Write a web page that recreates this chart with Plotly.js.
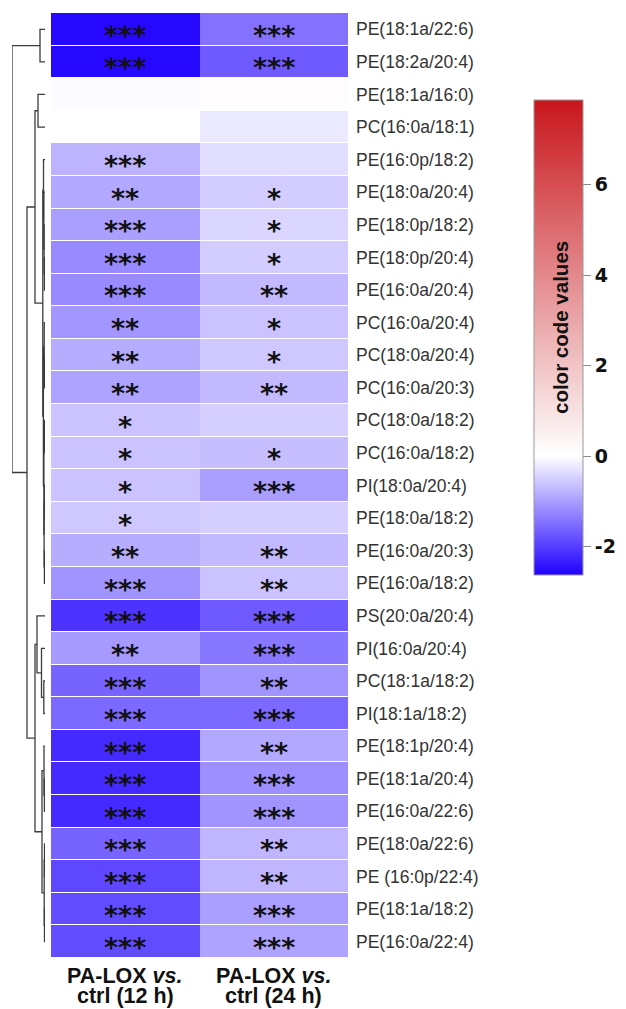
<!DOCTYPE html>
<html>
<head>
<meta charset="utf-8">
<script src="https://cdn.plot.ly/plotly-3.0.1.min.js"></script>
<style>html,body{margin:0;padding:0;background:#fff;}#chart{width:626px;height:1009px;}</style>
</head>
<body>
<div id="chart"></div>
<script>
// ---------------- data ----------------
const rowLabels = [
  "PE(18:1a/22:6)","PE(18:2a/20:4)","PE(18:1a/16:0)","PC(16:0a/18:1)","PE(16:0p/18:2)",
  "PE(18:0a/20:4)","PE(18:0p/18:2)","PE(18:0p/20:4)","PE(16:0a/20:4)","PC(16:0a/20:4)",
  "PC(18:0a/20:4)","PC(16:0a/20:3)","PC(18:0a/18:2)","PC(16:0a/18:2)","PI(18:0a/20:4)",
  "PE(18:0a/18:2)","PE(16:0a/20:3)","PE(16:0a/18:2)","PS(20:0a/20:4)","PI(16:0a/20:4)",
  "PC(18:1a/18:2)","PI(18:1a/18:2)","PE(18:1p/20:4)","PE(18:1a/20:4)","PE(16:0a/22:6)",
  "PE(18:0a/22:6)","PE (16:0p/22:4)","PE(18:1a/18:2)","PE(16:0a/22:4)"
];
const colLabels = ["PA-LOX <i>vs.</i><br>ctrl (12 h)", "PA-LOX <i>vs.</i><br>ctrl (24 h)"];

const val12h = [-2.55,-2.55,-0.04,0.0,-0.78,-0.9,-1.0,-1.2,-1.2,-1.08,
                -0.85,-0.95,-0.62,-0.62,-0.62,-0.57,-0.85,-1.1,-2.1,-1.05,
                -1.6,-1.55,-2.2,-2.2,-2.2,-1.6,-1.9,-1.85,-1.85];
const val24h = [-1.45,-1.7,0.1,-0.23,-0.34,-0.52,-0.42,-0.52,-0.72,-0.62,
                -0.57,-0.72,-0.5,-0.67,-1.0,-0.5,-0.72,-0.62,-1.7,-1.4,
                -1.1,-1.55,-0.9,-1.15,-1.1,-0.75,-0.75,-1.0,-0.95];

const sig12h = ["***","***","","","***","**","***","***","***","**",
                "**","**","*","*","*","*","**","***","***","**",
                "***","***","***","***","***","***","***","***","***"];
const sig24h = ["***","***","","","","*","*","*","**","*",
                "*","**","","*","***","","**","**","***","***",
                "**","***","**","***","***","**","**","***","***"];

// dendrogram linkage (index < 29 = row, index >= 29 = earlier merge)
const linkLeft   = [0,2,7,6,5,4,10,9,12,14,16,38,37,36,34,30,20,19,18,23,22,25,27,50,49,47,44,29];
const linkRight  = [1,3,8,31,32,33,11,35,13,15,17,39,40,41,42,43,21,45,46,24,48,26,28,51,52,53,54,55];
const linkHeight = [5,7,0.6,0.9,1.2,1.5,0.5,0.8,0.5,0.4,0.6,0.9,1.1,1.6,2.2,10,1.2,3.5,8,0.6,1.0,0.5,0.5,0.8,3,10,18,33];

const cbTicks = [-2,0,2,4,6];
const zMin = -2.63, zMax = 7.87;

// ---------------- build ----------------
const W = 626, H = 1009;
const nRows = rowLabels.length;
const z = rowLabels.map((_, i) => [val12h[i], val24h[i]]);
const rowIdx = rowLabels.map((_, i) => i);

const posY = [], posH = [];
for (let i = 0; i < nRows; i++) { posY[i] = i; posH[i] = 0; }
const dx = [], dy = [];
linkLeft.forEach((l, k) => {
  const r = linkRight[k], h = linkHeight[k];
  dx.push(posH[l], h, h, posH[r], null);
  dy.push(posY[l], posY[l], posY[r], posY[r], null);
  posY[nRows + k] = (posY[l] + posY[r]) / 2;
  posH[nRows + k] = h;
});

const zeroFrac = (0 - zMin) / (zMax - zMin);
const heat = {
  type: 'heatmap', x: [0, 1], y: rowIdx, z: z,
  zmin: zMin, zmax: zMax,
  colorscale: [[0, '#2000ff'], [zeroFrac, '#ffffff'], [1, '#c8161c']],
  ygap: 1, hoverinfo: 'skip',
  colorbar: {
    x: 534 / W, xanchor: 'left', xpad: 0, ypad: 0,
    y: (H - 337.5) / H, yanchor: 'middle',
    len: 475, lenmode: 'pixels', thickness: 49, thicknessmode: 'pixels',
    outlinecolor: '#9a9a9a', outlinewidth: 1,
    ticks: 'outside', ticklen: 8, tickcolor: '#888', tickwidth: 1,
    tickvals: cbTicks, ticktext: cbTicks.map(String),
    tickfont: {family: 'DejaVu Sans', size: 19, weight: 'bold', color: '#111'}
  }
};
const dendro = {
  type: 'scatter', mode: 'lines', x: dx, y: dy, xaxis: 'x2', yaxis: 'y',
  line: {color: '#3c3c3c', width: 1.3}, hoverinfo: 'skip', showlegend: false
};

const annotations = [];
[sig12h, sig24h].forEach((arr, c) => {
  arr.forEach((s, r) => {
    if (!s) return;
    annotations.push({x: c, y: r, xref: 'x', yref: 'y', text: s, showarrow: false,
      yshift: -6, font: {family: 'DejaVu Sans', size: 27, weight: 'bold', color: '#111'}});
  });
});
colLabels.forEach((lab, c) => {
  lab.split('<br>').forEach((line, j) => {
    annotations.push({x: c, xref: 'x', y: (H - (976 + 20 * j)) / H, yref: 'paper',
      yanchor: 'middle', xanchor: 'center', text: line, showarrow: false,
      font: {family: 'Liberation Sans, Arial', size: 21.5, weight: 'bold', color: '#111'}});
  });
});
annotations.push({x: 560 / W, y: (H - 328) / H, xref: 'paper', yref: 'paper',
  xanchor: 'center', yanchor: 'middle',
  text: 'color code values', textangle: -90, showarrow: false,
  font: {family: 'Liberation Sans, Arial', size: 20.5, weight: 'bold', color: '#111'}});

const layout = {
  width: W, height: H,
  margin: {l: 0, r: 0, t: 0, b: 0, autoexpand: false},
  paper_bgcolor: '#fff', plot_bgcolor: '#fff',
  showlegend: false,
  xaxis: {domain: [51 / W, 348 / W], range: [-0.5, 1.5], showticklabels: false,
          showgrid: false, zeroline: false, ticks: '', anchor: 'y'},
  yaxis: {domain: [1 - 958 / H, 1 - 13 / H], range: [nRows - 0.5, -0.5], side: 'right',
          tickvals: rowIdx, ticktext: rowLabels, ticks: '', ticklabelstandoff: 7,
          showgrid: false, zeroline: false, anchor: 'x',
          tickfont: {family: 'Liberation Sans, Arial', size: 17.5, color: '#333'}},
  xaxis2: {domain: [12 / W, 45 / W], range: [33, 0], anchor: 'y', visible: false,
           showgrid: false, zeroline: false},
  annotations: annotations
};

Plotly.newPlot('chart', [heat, dendro], layout, {displayModeBar: false, staticPlot: true});
</script>
</body>
</html>
